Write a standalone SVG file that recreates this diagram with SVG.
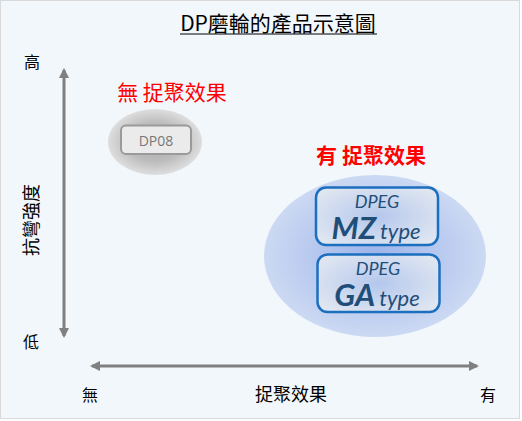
<svg xmlns="http://www.w3.org/2000/svg" width="522" height="421" viewBox="0 0 522 421">
<defs>
<style>
.cjk{font-family:"Noto Sans CJK TC","Noto Sans CJK SC",sans-serif;}
.lab{font-size:16px;fill:#000;}
.red{font-size:21px;fill:#ff0000;}
.lat{font-family:Lato,"Open Sans",sans-serif;font-style:italic;fill:#1f4e79;}
.axis{stroke:#808080;stroke-width:3;fill:none;}
.pbox{stroke:#1c6fbf;stroke-width:2.5;}
</style>
<marker id="ah" viewBox="0 0 10 10" refX="8" refY="5" markerWidth="3.4" markerHeight="3.4" orient="auto-start-reverse" markerUnits="strokeWidth">
<path d="M0,0 L10,5 L0,10 Z" fill="#808080"/>
</marker>
<radialGradient id="gGray" cx="50%" cy="50%" r="50%">
<stop offset="0" stop-color="#a9a9a9"/>
<stop offset="0.6" stop-color="#bdbdbd"/>
<stop offset="1" stop-color="#dedede"/>
</radialGradient>
<radialGradient id="gBlue" cx="50%" cy="50%" r="50%">
<stop offset="0" stop-color="#9db4ea"/>
<stop offset="1" stop-color="#ccd9f3"/>
</radialGradient>
<radialGradient id="gBox" cx="50%" cy="50%" r="60%">
<stop offset="0" stop-color="#b4c7ec"/>
<stop offset="1" stop-color="#dfe6f1"/>
</radialGradient>
</defs>
<rect x="0.5" y="0.5" width="519" height="418" fill="#f2f7fb" stroke="#d9d9d9" stroke-width="1"/>

<g id="title">
<text x="278" y="31" class="cjk" font-size="21" text-anchor="middle" fill="#000">DP磨輪的產品示意圖</text>
<line x1="180" y1="34" x2="377" y2="34" stroke="#000" stroke-width="1"/>
</g>

<g id="connectors">
<line class="axis" x1="64" y1="336" x2="64" y2="70" marker-start="url(#ah)" marker-end="url(#ah)"/>
<line class="axis" x1="92" y1="366" x2="477" y2="366" marker-start="url(#ah)" marker-end="url(#ah)"/>
</g>

<g id="axis-labels">
<text x="32" y="68" class="cjk lab" text-anchor="middle">高</text>
<text x="31" y="348" class="cjk lab" text-anchor="middle">低</text>
<text x="0" y="0" class="cjk" font-size="18" text-anchor="middle" transform="translate(38,220) rotate(-90)">抗彎強度</text>
<text x="90" y="401" class="cjk lab" text-anchor="middle">無</text>
<text x="291" y="401" class="cjk" font-size="18" text-anchor="middle">捉聚效果</text>
<text x="488" y="401" class="cjk lab" text-anchor="middle">有</text>
</g>

<g id="group-no">
<text x="172" y="100" class="cjk red" text-anchor="middle">無 捉聚效果</text>
<ellipse cx="155" cy="142" rx="47" ry="33" fill="url(#gGray)"/>
</g>

<g id="node-dp08">
<rect x="121" y="125.5" width="70" height="28.5" rx="5" fill="#ebebeb" stroke="#9a9a9a" stroke-width="2"/>
<text x="156" y="145.5" font-family="'Open Sans','Noto Sans',sans-serif" font-size="14" fill="#777" text-anchor="middle">DP08</text>
</g>

<g id="group-yes">
<text x="371" y="163" class="cjk red" font-weight="bold" text-anchor="middle">有 捉聚效果</text>
<ellipse cx="375" cy="256" rx="111" ry="81" fill="url(#gBlue)"/>
</g>

<g id="node-mz">
<rect x="316" y="187.5" width="122" height="57.5" rx="10" fill="url(#gBox)" class="pbox"/>
<text x="377" y="208" class="lat" font-size="18" text-anchor="middle">DPEG</text>
<text x="376" y="239" class="lat" text-anchor="middle"><tspan font-size="31" font-weight="bold">MZ</tspan><tspan font-size="22" dx="4">type</tspan></text>
</g>

<g id="node-ga">
<rect x="317.5" y="254.5" width="122" height="57.5" rx="10" fill="url(#gBox)" class="pbox"/>
<text x="378" y="275" class="lat" font-size="18" text-anchor="middle">DPEG</text>
<text x="377" y="306" class="lat" text-anchor="middle"><tspan font-size="31" font-weight="bold">GA</tspan><tspan font-size="22" dx="4">type</tspan></text>
</g>
</svg>
